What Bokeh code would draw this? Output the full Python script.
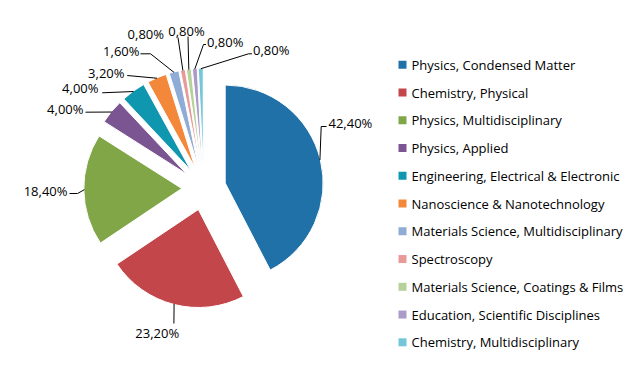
import numpy as np
from bokeh.plotting import figure
from bokeh.models import Range1d, ColumnDataSource
from bokeh.embed import file_html
from bokeh.resources import INLINE
from bokeh.core.properties import value

# ---- data ----
categories = [
    "Physics, Condensed Matter",
    "Chemistry, Physical",
    "Physics, Multidisciplinary",
    "Physics, Applied",
    "Engineering, Electrical & Electronic",
    "Nanoscience & Nanotechnology",
    "Materials Science, Multidisciplinary",
    "Spectroscopy",
    "Materials Science, Coatings & Films",
    "Education, Scientific Disciplines",
    "Chemistry, Multidisciplinary",
]
shares = [42.4, 23.2, 18.4, 4.0, 4.0, 3.2, 1.6, 0.8, 0.8, 0.8, 0.8]
colors = ["#2171A9", "#C3474A", "#80A648", "#7A5591", "#0F97B0", "#F4883A",
          "#8EACD6", "#E89A98", "#B6D29B", "#AC9BC8", "#76C6DA"]
labels = [f"{v:.2f}".replace(".", ",") + "%" for v in shares]

# ---- layout (pixel coordinates of the reference picture) ----
W, H = 628, 372
FONT = "Open Sans"
FS = "13px"

def Y(sy):
    return 388 - sy

cx, cy = 203.3, 187.7
R = 98
EXPLODE = 22

# label layout: intermediate leader points, text anchor, alignment
label_elbows = [
    [(320.7, 126), (326, 126)],
    [(173.4, 323)],
    [(77, 193), (69, 193)],
    [(85, 111.7)],
    [(101.7, 92.3)],
    [(126.7, 75)],
    [(150, 53.3), (140, 53.3)],
    [(177.5, 37)],
    [(187.5, 36)],
    [(203, 44), (205.5, 44)],
    [(248, 53.3), (251.5, 53.3)],
]
label_pos = [(328, 122), (156.7, 332), (67, 190), (83, 108), (98, 87),
             (124, 72), (139, 50.7), (163.5, 33), (186, 30), (206.5, 41),
             (252.5, 49.5)]
label_align = ["left", "center", "right", "right", "right", "right", "right",
               "right", "center", "left", "left"]

legend_sq_x = 402
legend_txt_x = 411
legend_y0 = 64.3
legend_dy = 27.75

# ---- geometry ----
vals = np.array(shares)
cum = np.concatenate([[0], np.cumsum(vals)]) / vals.sum() * 360.0
t1, t2 = cum[:-1], cum[1:]
mid = np.radians((t1 + t2) / 2)
dxs, dys = np.sin(mid), -np.cos(mid)

wedge_src = ColumnDataSource(dict(
    x=cx + EXPLODE * dxs,
    y=[Y(v) for v in cy + EXPLODE * dys],
    start=90 - t2,
    end=90 - t1,
    color=colors,
))

p = figure(width=W, height=H, output_backend="svg", toolbar_location=None,
           x_range=Range1d(0, W), y_range=Range1d(Y(H), Y(0)),
           x_axis_type=None, y_axis_type=None, min_border=0)
p.grid.visible = False
p.outline_line_color = None
p.background_fill_color = "white"

p.wedge(x="x", y="y", radius=R, start_angle="start", end_angle="end",
        start_angle_units="deg", end_angle_units="deg",
        fill_color="color", line_color="white", line_width=1, source=wedge_src)

# leader lines
xs, ys = [], []
for i in range(len(shares)):
    sx = cx + (EXPLODE + R - 0.5) * dxs[i]
    sy = cy + (EXPLODE + R - 0.5) * dys[i]
    pts = [(sx, sy)] + label_elbows[i]
    xs.append([pt[0] for pt in pts])
    ys.append([Y(pt[1]) for pt in pts])
p.multi_line(xs=xs, ys=ys, line_color="black", line_width=1)

lab_src = ColumnDataSource(dict(
    x=[lp[0] for lp in label_pos],
    y=[Y(lp[1]) for lp in label_pos],
    text=labels,
    align=label_align,
))
p.text(x="x", y="y", text="text", text_align="align", text_baseline="middle",
       text_font=value(FONT), text_font_size=FS, text_color="black",
       source=lab_src)

# legend
ly = [Y(legend_y0 + i * legend_dy) for i in range(len(categories))]
p.rect(x=[legend_sq_x] * len(categories), y=ly, width=8, height=8,
       fill_color=colors, line_color=None)
p.text(x=[legend_txt_x] * len(categories), y=ly, text=categories,
       text_align="left", text_baseline="middle", text_font=value(FONT),
       text_font_size=FS, text_color="black")

open("out.html", "w").write(file_html(p, INLINE))
